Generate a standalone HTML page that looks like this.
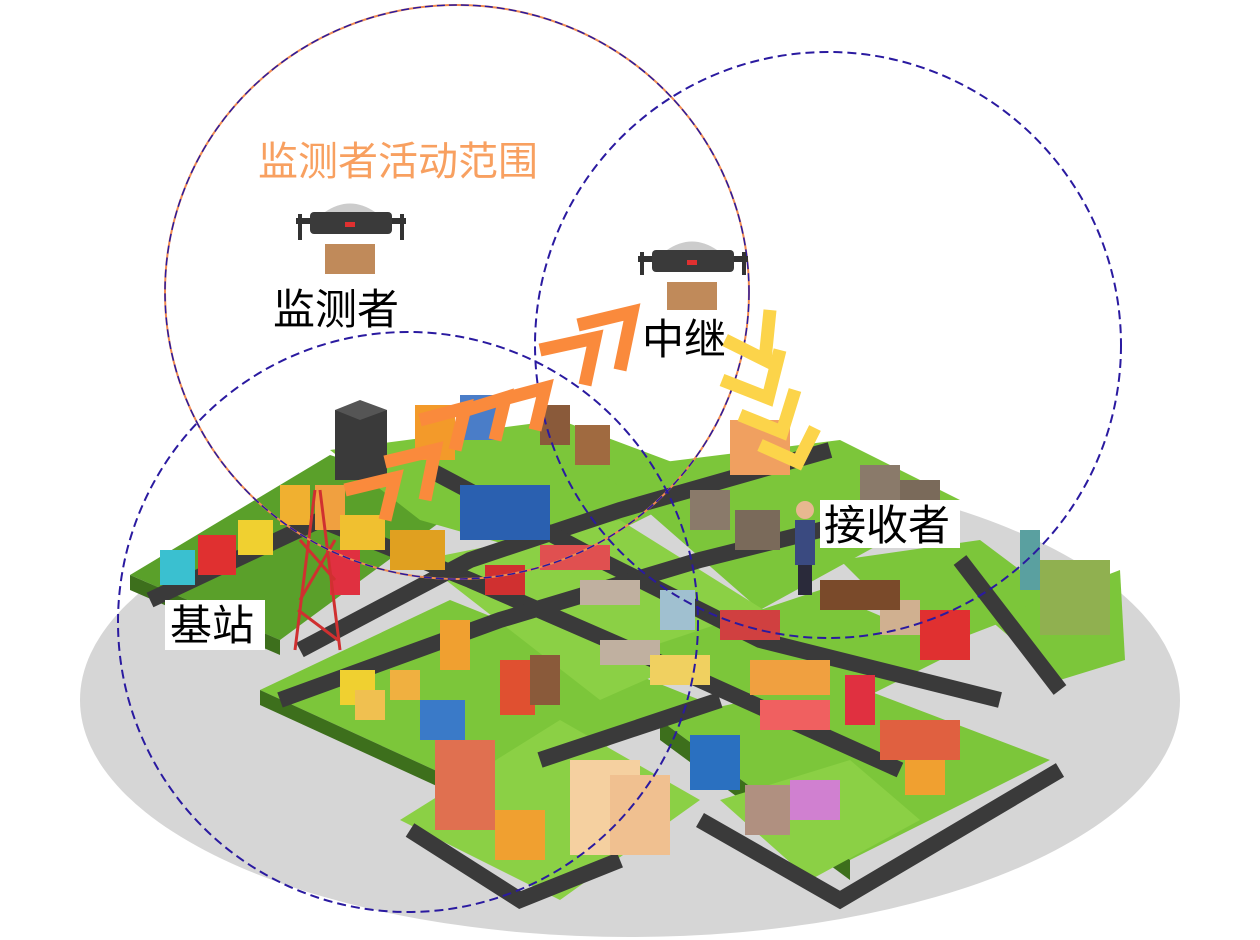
<!DOCTYPE html>
<html><head><meta charset="utf-8"><style>
html,body{margin:0;padding:0;background:#fff;}
svg{display:block;}
text{font-family:"Liberation Sans","Noto Sans CJK SC",sans-serif;}
</style></head><body>
<svg width="1260" height="940" viewBox="0 0 1260 940" xmlns="http://www.w3.org/2000/svg">
<ellipse cx="630" cy="700" rx="550" ry="237" fill="#d6d6d6"/>
<g>
<polygon points="130,575 330,455 470,500 280,640" fill="#5aa02a"/>
<polygon points="130,575 280,640 280,655 130,590" fill="#3d6f1c"/>
<polygon points="330,450 560,420 720,480 560,560 420,520" fill="#7cc63a"/>
<polygon points="600,470 840,440 960,500 760,610" fill="#7cc63a"/>
<polygon points="260,690 450,600 700,700 500,800" fill="#7cc63a"/>
<polygon points="260,690 500,800 500,815 260,705" fill="#3d6f1c"/>
<polygon points="420,560 620,520 780,620 600,700" fill="#8bd045"/>
<polygon points="640,650 820,590 960,650 800,730" fill="#7cc63a"/>
<polygon points="660,720 840,680 1050,760 850,860" fill="#7cc63a"/>
<polygon points="660,720 850,860 850,880 660,740" fill="#3d6f1c"/>
<polygon points="840,560 980,540 1060,600 930,650" fill="#7cc63a"/>
<polygon points="990,620 1120,570 1125,660 1060,680" fill="#7cc63a"/>
<polygon points="400,820 560,720 700,800 560,900" fill="#8bd045"/>
<polygon points="720,800 850,760 920,820 810,880" fill="#8bd045"/>
</g>
<g stroke="#3a3a3a" stroke-width="16" fill="none">
<polyline points="150,600 320,520 470,580 700,680 900,770"/>
<polyline points="300,650 470,560 620,510 830,450"/>
<polyline points="430,470 600,560 760,640 1000,700"/>
<polyline points="280,700 500,620 700,560 900,510"/>
<polyline points="410,830 520,900 620,860"/>
<polyline points="700,820 840,900 1060,770"/>
<polyline points="960,560 1060,690"/>
<polyline points="540,760 720,700"/>
</g>
<g>
<rect x="335" y="410" width="52" height="70" fill="#3a3a3a"/><polygon points="335,410 360,400 387,410 360,420" fill="#555"/>
<rect x="415" y="405" width="40" height="55" fill="#f39a2a"/>
<rect x="460" y="395" width="40" height="45" fill="#4a7dc8"/>
<rect x="280" y="485" width="30" height="40" fill="#f0b030"/>
<rect x="315" y="485" width="30" height="45" fill="#f0a040"/>
<rect x="160" y="550" width="35" height="35" fill="#3ac0d0"/>
<rect x="198" y="535" width="38" height="40" fill="#e03030"/>
<rect x="238" y="520" width="35" height="35" fill="#f0d030"/>
<rect x="330" y="550" width="30" height="45" fill="#e03040"/>
<rect x="340" y="515" width="45" height="35" fill="#f0c030"/>
<rect x="390" y="530" width="55" height="40" fill="#e0a020"/>
<rect x="460" y="485" width="90" height="55" fill="#2a60b0"/>
<rect x="540" y="405" width="30" height="40" fill="#8a5a3a"/>
<rect x="575" y="425" width="35" height="40" fill="#a06a40"/>
<rect x="730" y="420" width="60" height="55" fill="#f0a060"/>
<rect x="690" y="490" width="40" height="40" fill="#8a7a6a"/>
<rect x="735" y="510" width="45" height="40" fill="#7a6a5a"/>
<rect x="860" y="465" width="40" height="35" fill="#8a7a6a"/>
<rect x="900" y="480" width="40" height="35" fill="#7a6a5a"/>
<rect x="1040" y="560" width="70" height="75" fill="#90b050"/>
<rect x="1020" y="530" width="20" height="60" fill="#5aa0a0"/>
<rect x="920" y="610" width="50" height="50" fill="#e03030"/>
<rect x="880" y="600" width="40" height="35" fill="#d0b090"/>
<rect x="820" y="580" width="80" height="30" fill="#7a4a2a"/>
<rect x="440" y="620" width="30" height="50" fill="#f0a030"/>
<rect x="500" y="660" width="35" height="55" fill="#e05030"/>
<rect x="530" y="655" width="30" height="50" fill="#8a5a3a"/>
<rect x="420" y="700" width="45" height="40" fill="#3a7ac8"/>
<rect x="340" y="670" width="35" height="35" fill="#f0d030"/>
<rect x="355" y="690" width="30" height="30" fill="#f0c050"/>
<rect x="390" y="670" width="30" height="30" fill="#f0b040"/>
<rect x="435" y="740" width="60" height="90" fill="#e07050"/>
<rect x="570" y="760" width="70" height="95" fill="#f5d0a0"/>
<rect x="610" y="775" width="60" height="80" fill="#f0c090"/>
<rect x="495" y="810" width="50" height="50" fill="#f0a030"/>
<rect x="690" y="735" width="50" height="55" fill="#2a70c0"/>
<rect x="745" y="785" width="45" height="50" fill="#b09080"/>
<rect x="790" y="780" width="50" height="40" fill="#d080d0"/>
<rect x="845" y="675" width="30" height="50" fill="#e03040"/>
<rect x="750" y="660" width="80" height="35" fill="#f0a040"/>
<rect x="760" y="700" width="70" height="30" fill="#f06060"/>
<rect x="880" y="720" width="80" height="40" fill="#e06040"/>
<rect x="905" y="760" width="40" height="35" fill="#f0a030"/>
<rect x="660" y="590" width="35" height="40" fill="#a0c0d0"/>
<rect x="720" y="610" width="60" height="30" fill="#d04040"/>
<rect x="485" y="565" width="40" height="30" fill="#d03030"/>
<rect x="540" y="545" width="70" height="25" fill="#e05050"/>
<rect x="580" y="580" width="60" height="25" fill="#c0b0a0"/>
<rect x="600" y="640" width="60" height="25" fill="#c0b0a0"/>
<rect x="650" y="655" width="60" height="30" fill="#f0d060"/>
</g>
<g stroke="#d03030" stroke-width="3" fill="none">
<line x1="315" y1="490" x2="295" y2="650"/><line x1="320" y1="490" x2="340" y2="650"/>
<line x1="300" y1="540" x2="335" y2="580"/><line x1="335" y1="540" x2="300" y2="600"/>
<line x1="298" y1="610" x2="338" y2="640"/>
</g>
<rect x="795" y="520" width="20" height="45" fill="#3a4a80"/>
<rect x="798" y="565" width="14" height="30" fill="#2a2a3a"/>
<circle cx="805" cy="510" r="9" fill="#e8b890"/>
<ellipse cx="457" cy="292" rx="292" ry="287" fill="none" stroke="#f08a50" stroke-width="2"/>
<ellipse cx="457" cy="292" rx="292" ry="287" fill="none" stroke="#2a1aa0" stroke-width="1.5" stroke-dasharray="8,4"/>
<circle cx="828" cy="345" r="293" fill="none" stroke="#2a1aa0" stroke-width="2" stroke-dasharray="9,5"/>
<circle cx="408" cy="622" r="290" fill="none" stroke="#2a1aa0" stroke-width="2" stroke-dasharray="9,5"/>
<!-- orange chevrons: corner at upper-right -->
<g stroke="#fa8a3c" stroke-width="13" fill="none" stroke-linejoin="miter" stroke-miterlimit="10">
<polyline points="345,490 395,478 385,520"/>
<polyline points="385,462 435,450 425,500"/>
<polyline points="420,420 465,408 455,450"/>
<polyline points="460,412 505,398 495,440"/>
<polyline points="500,400 545,388 535,430"/>
<polyline points="540,350 595,338 585,385"/>
<polyline points="578,325 632,312 620,370"/>
</g>
<!-- yellow chevrons: V with corner lower-right -->
<g stroke="#fcd44a" stroke-width="13" fill="none" stroke-linejoin="miter" stroke-miterlimit="10">
<polyline points="725,340 765,360 770,310"/>
<polyline points="722,380 768,398 780,350"/>
<polyline points="740,415 782,432 795,390"/>
<polyline points="760,445 798,462 815,428"/>
</g>
<g>
<rect x="296" y="218" width="110" height="6" fill="#333"/>
<rect x="310" y="212" width="82" height="22" rx="4" fill="#3a3a3a"/>
<path d="M325 212 Q350 195 375 212Z" fill="#ccc"/>
<rect x="345" y="222" width="10" height="5" fill="#e03030"/>
<rect x="325" y="244" width="50" height="30" fill="#c08a5a"/>
<line x1="300" y1="214" x2="300" y2="240" stroke="#333" stroke-width="4"/>
<line x1="402" y1="214" x2="402" y2="240" stroke="#333" stroke-width="4"/>
</g>
<g>
<rect x="638" y="256" width="110" height="6" fill="#333"/>
<rect x="652" y="250" width="82" height="22" rx="4" fill="#3a3a3a"/>
<path d="M667 250 Q692 233 717 250Z" fill="#ccc"/>
<rect x="687" y="260" width="10" height="5" fill="#e03030"/>
<rect x="667" y="282" width="50" height="28" fill="#c08a5a"/>
<line x1="642" y1="252" x2="642" y2="275" stroke="#333" stroke-width="4"/>
<line x1="744" y1="252" x2="744" y2="275" stroke="#333" stroke-width="4"/>
</g>
<text x="258" y="175" font-size="40" fill="#f8a060">监测者活动范围</text>
<text x="273" y="324" font-size="42" fill="#000">监测者</text>
<text x="642" y="354" font-size="42" fill="#000">中继</text>
<rect x="820" y="500" width="140" height="48" fill="#fff"/>
<text x="824" y="540" font-size="42" fill="#000">接收者</text>
<rect x="165" y="600" width="100" height="50" fill="#fff"/>
<text x="170" y="640" font-size="42" fill="#000">基站</text>
</svg>
</body></html>
